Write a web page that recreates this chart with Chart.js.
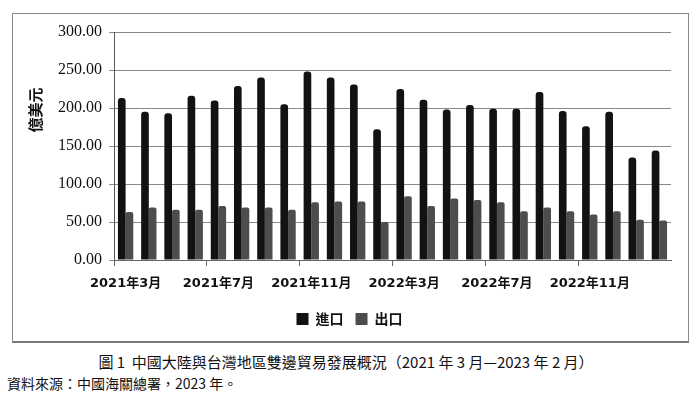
<!DOCTYPE html>
<html>
<head>
<meta charset="utf-8">
<script src="https://cdn.jsdelivr.net/npm/chart.js@4"></script>
<style>
  html, body { margin: 0; padding: 0; background: #fff; width: 700px; height: 399px; overflow: hidden; }
  #box { position: absolute; left: 12px; top: 13px; width: 677px; height: 330px; box-sizing: border-box; border: 1px solid #8a8a8a; border-bottom: 2px solid #777; }
  #wrap { position: absolute; left: 0; top: 0; width: 700px; height: 345px; }
  #caption { position: absolute; left: 0; width: 692px; top: 351px; text-align: center; font: 400 15px 'Noto Sans CJK TC', 'Noto Sans', sans-serif; color: #111; white-space: nowrap; }
  #source { position: absolute; left: 7px; top: 373px; font: 400 14px 'Noto Sans CJK TC', serif; color: #111; white-space: nowrap; }
</style>
</head>
<body>
<div id="box"></div>
<div id="wrap"><canvas id="c" width="700" height="345"></canvas></div>
<div id="caption">圖 1&nbsp; 中國大陸與台灣地區雙邊貿易發展概況（2021 年 3 月—2023 年 2 月）</div>
<div id="source">資料來源：中國海關總署，2023 年。</div>
<script>
const months = ['2021年3月','2021年4月','2021年5月','2021年6月','2021年7月','2021年8月','2021年9月','2021年10月','2021年11月','2021年12月','2022年1月','2022年2月','2022年3月','2022年4月','2022年5月','2022年6月','2022年7月','2022年8月','2022年9月','2022年10月','2022年11月','2022年12月','2023年1月','2023年2月'];
const imports = [213, 195, 193, 216, 210, 229, 240, 205, 248, 240, 231, 172, 225, 211, 198, 204, 199, 199, 221, 196, 176, 195, 135, 144];
const exports_ = [63, 69, 66, 66, 71, 69, 69, 66, 76, 77, 77, 50, 84, 71, 81, 79, 76, 64, 69, 64, 60, 64, 53, 52];
const seriesNames = ['進口', '出口'];
const yTitle = '億美元';

const yTitlePlugin = {
  id: 'yTitle',
  afterLayout(chart) {
    if (chart.legend) { chart.legend.left += 14; chart.legend.right += 14; }
  },
  afterDraw(chart) {
    const ctx = chart.ctx;
    ctx.save();
    ctx.translate(35, 110);
    ctx.rotate(-Math.PI / 2);
    ctx.font = "bold 15px 'Noto Sans CJK TC'";
    ctx.fillStyle = '#111';
    ctx.textAlign = 'center';
    ctx.textBaseline = 'middle';
    ctx.fillText(yTitle, 0, 0);
    ctx.restore();
  }
};

new Chart(document.getElementById('c'), {
  type: 'bar',
  data: {
    labels: months,
    datasets: [
      { label: seriesNames[0], data: imports, backgroundColor: '#121212', borderRadius: {topLeft: 3, topRight: 3}, borderSkipped: 'bottom', categoryPercentage: 0.66, barPercentage: 1 },
      { label: seriesNames[1], data: exports_, backgroundColor: '#4d4d4d', borderRadius: {topLeft: 2, topRight: 2}, borderSkipped: 'bottom', categoryPercentage: 0.66, barPercentage: 1 }
    ]
  },
  options: {
    responsive: false,
    animation: false,
    devicePixelRatio: 1,
    layout: { padding: { left: 0, top: 32, right: 29, bottom: 9 } },
    plugins: {
      tooltip: { enabled: false },
      legend: {
        position: 'bottom',
        labels: {
          boxWidth: 12, boxHeight: 12, padding: 12,
          color: '#111',
          font: { family: "'Noto Sans CJK TC'", size: 14, weight: 'bold' }
        }
      }
    },
    scales: {
      x: {
        afterFit(s) { s.height = 40; },
        grid: {
          offset: true,
          drawOnChartArea: false,
          drawTicks: true,
          tickLength: 6,
          color: (ctx) => (ctx.index % 4 === 0 ? '#666' : 'rgba(0,0,0,0)')
        },
        border: { display: true, color: '#666', width: 1 },
        ticks: {
          autoSkip: false,
          maxRotation: 0,
          minRotation: 0,
          padding: 10,
          color: '#111',
          font: { family: "'DejaVu Sans', 'Noto Sans CJK TC'", size: 13, weight: 'bold' },
          callback: function(v, i) { return i % 4 === 0 ? months[i] : ''; }
        }
      },
      y: {
        min: 0, max: 300,
        afterFit(s) { s.width = 114; },
        grid: { color: '#8a8a8a', tickLength: 5, lineWidth: 1 },
        border: { display: true, color: '#555', width: 1 },
        ticks: {
          stepSize: 50,
          padding: 7,
          color: '#111',
          font: { family: "'Liberation Serif', 'Times New Roman', serif", size: 16 },
          callback: (v) => Number(v).toFixed(2)
        }
      }
    }
  },
  plugins: [yTitlePlugin]
});
</script>
</body>
</html>
